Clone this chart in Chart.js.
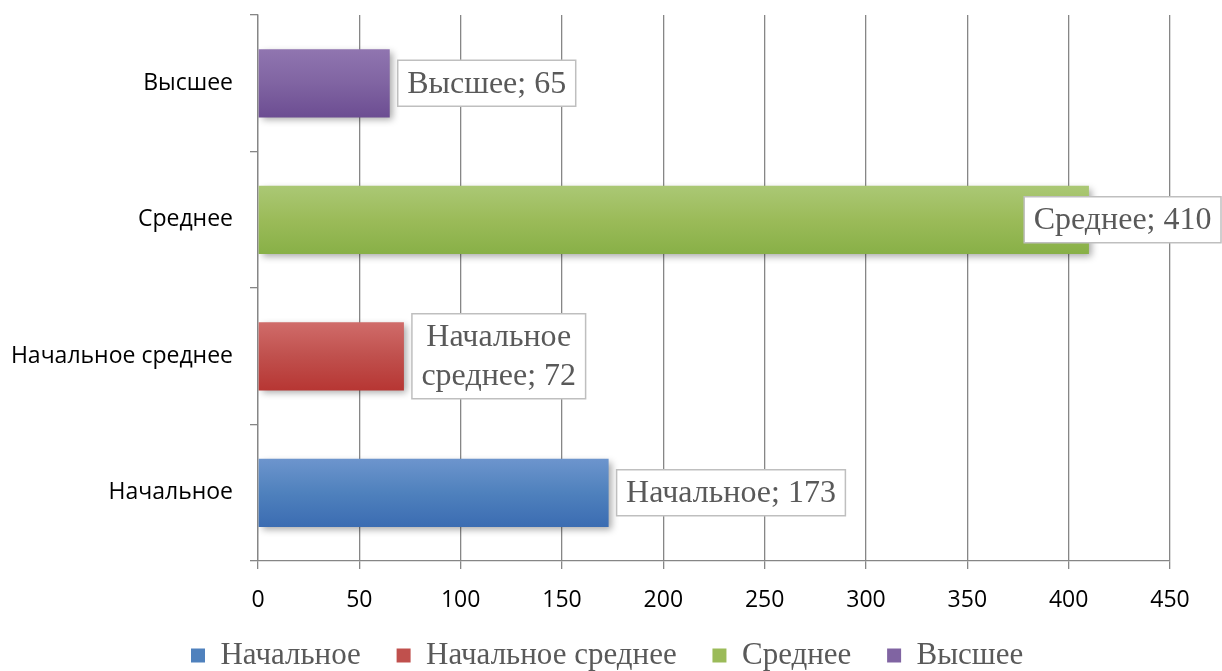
<!DOCTYPE html>
<html>
<head>
<meta charset="utf-8">
<script src="https://cdn.jsdelivr.net/npm/chart.js@4.4.0/dist/chart.umd.min.js"></script>
<style>
  html, body { margin: 0; padding: 0; background: #fff; }
  #chart { display: block; }
</style>
</head>
<body>
<canvas id="chart" width="1222" height="671"></canvas>
<script>
// categories, bottom to top (reversed y axis)
const categories = ['Начальное', 'Начальное среднее', 'Среднее', 'Высшее'];
const values = [173, 72, 410, 65];
const xTicks = [0, 50, 100, 150, 200, 250, 300, 350, 400, 450];

const topColors = ['#6d95cd', '#d06c6a', '#abc875', '#9075b0'];
const midColors = ['#4f81bd', '#c0504d', '#9bbb59', '#8064a2'];
const bottomColors = ['#3b6cb2', '#b73633', '#88b047', '#6c4d92'];

const gridGrey = '#868686';
const textGrey = '#595959';
const serif = '"Liberation Serif", "Times New Roman", serif';

// each category is its own series, value only at its own row
const makeData = i => categories.map((c, j) => j === i ? values[i] : null);

const barFill = i => context => {
    const chart = context.chart;
    const y = chart.scales.y;
    if (!chart.chartArea || !y) return midColors[i];
    const center = y.getPixelForValue(context.dataIndex);
    const half = chart.chartArea.height / categories.length * 0.25;
    const g = chart.ctx.createLinearGradient(0, center - half, 0, center + half);
    g.addColorStop(0, topColors[i]);
    g.addColorStop(0.5, midColors[i]);
    g.addColorStop(1, bottomColors[i]);
    return g;
};

const shadowPlugin = {
    id: 'barShadow',
    beforeDatasetsDraw(chart) {
        const ctx = chart.ctx;
        ctx.save();
        ctx.shadowColor = 'rgba(0,0,0,0.35)';
        ctx.shadowBlur = 7;
        ctx.shadowOffsetX = 3;
        ctx.shadowOffsetY = 3;
    },
    afterDatasetsDraw(chart) {
        chart.ctx.restore();
    }
};

const labelPlugin = {
    id: 'boxLabels',
    afterDatasetsDraw(chart) {
        const ctx = chart.ctx;
        ctx.save();
        ctx.font = '32px ' + serif;
        ctx.textBaseline = 'middle';
        ctx.textAlign = 'left';
        chart.data.datasets.forEach((ds, i) => {
            const meta = chart.getDatasetMeta(i);
            meta.data.forEach((bar, j) => {
                if (ds.data[j] === null) return;
                let text = ds.label + '; ' + ds.data[j];
                let lines = [text];
                if (ctx.measureText(text).width > 250) {
                    const words = ds.label.split(' ');
                    lines = [words.slice(0, -1).join(' '), words[words.length - 1] + '; ' + ds.data[j]];
                }
                const lineH = 39;
                const w = Math.max(...lines.map(l => ctx.measureText(l).width)) + 19;
                const h = lines.length * lineH + 7;
                let x = bar.x + 8;
                if (x + w > chart.width - 1) x = chart.width - 1 - w;
                const y = bar.y - h / 2;
                ctx.fillStyle = '#ffffff';
                ctx.fillRect(x, y, w, h);
                ctx.strokeStyle = '#bfbfbf';
                ctx.lineWidth = 1.5;
                ctx.strokeRect(x, y, w, h);
                ctx.fillStyle = textGrey;
                lines.forEach((l, k) => {
                    const lw = ctx.measureText(l).width;
                    ctx.fillText(l, x + (w - lw) / 2, y + 3.5 + lineH * (k + 0.5) + 1);
                });
            });
        });
        ctx.restore();
    }
};

const datasets = categories.map((c, i) => ({
    label: c,
    data: makeData(i),
    backgroundColor: barFill(i),
    borderWidth: 0,
    categoryPercentage: 0.5,
    barPercentage: 1
}));

new Chart(document.getElementById('chart').getContext('2d'), {
    type: 'bar',
    data: { labels: categories, datasets: datasets },
    plugins: [shadowPlugin, labelPlugin],
    options: {
        indexAxis: 'y',
        responsive: false,
        animation: false,
        devicePixelRatio: 1,
        layout: { padding: { top: 15, right: 0, left: 0, bottom: -10 } },
        scales: {
            x: {
                min: 0,
                max: 450,
                afterBuildTicks: scale => { scale.ticks = xTicks.map(v => ({ value: v })); },
                afterFit: scale => {
                    scale.height = 51;
                    scale.paddingRight = 52;
                },
                grid: { color: gridGrey, lineWidth: 1.3, tickLength: 8, drawTicks: true },
                border: { color: gridGrey, width: 1.3 },
                ticks: {
                    color: '#000',
                    padding: 18,
                    font: { family: '"Open Sans", sans-serif', size: 23 }
                }
            },
            y: {
                stacked: true,
                reverse: true,
                afterFit: scale => {
                    scale.width = 258;
                    scale.paddingTop = 0;
                    scale.paddingBottom = 0;
                },
                grid: { display: true, drawOnChartArea: false, offset: true, color: gridGrey, lineWidth: 1.3, tickLength: 8 },
                border: { color: gridGrey, width: 1.3 },
                ticks: {
                    color: '#000',
                    padding: 17,
                    font: { family: '"Open Sans", sans-serif', size: 23 }
                }
            }
        },
        plugins: {
            tooltip: { enabled: false },
            legend: {
                position: 'bottom',
                labels: {
                    boxWidth: 14,
                    boxHeight: 14,
                    padding: 28,
                    color: textGrey,
                    font: { family: serif, size: 31 },
                    generateLabels: chart => chart.data.datasets.map((ds, i) => ({
                        text: ds.label + '\u00A0',
                        fillStyle: midColors[i],
                        strokeStyle: midColors[i],
                        lineWidth: 0,
                        fontColor: textGrey,
                        datasetIndex: i
                    }))
                }
            }
        }
    }
});
</script>
</body>
</html>
